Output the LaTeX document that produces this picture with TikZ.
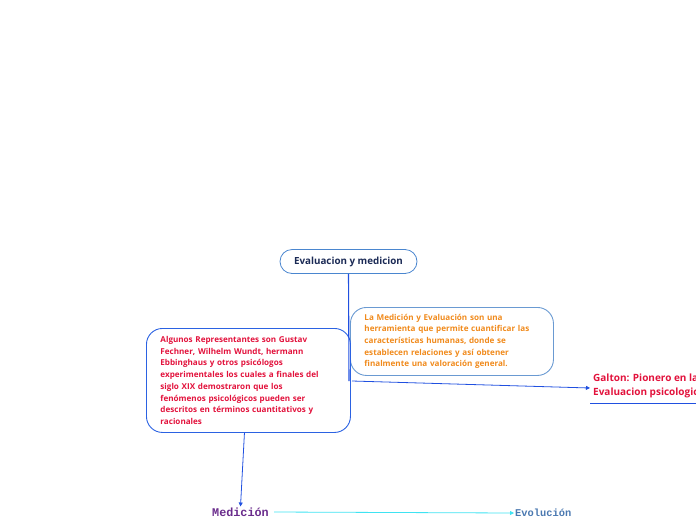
\documentclass[tikz,border=0pt]{standalone}
\usepackage{fontspec}
\setmainfont{Open Sans}
\setmonofont{Liberation Mono}
\usepackage{xcolor}
\usetikzlibrary{arrows.meta, positioning, calc}

\definecolor{rootbord}{HTML}{4A86CF}
\definecolor{roottxt}{HTML}{1B2A55}
\definecolor{defbord}{HTML}{6A9AD2}
\definecolor{deftxt}{HTML}{F08A1C}
\definecolor{repbord}{HTML}{2B62E2}
\definecolor{reptxt}{HTML}{E2123C}
\definecolor{linkblue}{HTML}{2050E0}
\definecolor{linkcyan}{HTML}{3FE3F2}
\definecolor{medtxt}{HTML}{6A2C8C}
\definecolor{evotxt}{HTML}{4A78B0}

\begin{document}
\begin{tikzpicture}[
    x=1pt, y=-1pt,
    every node/.style={font=\bfseries},
    rootbox/.style={rectangle, draw=rootbord, rounded corners=12pt, line width=0.8pt,
                    text=roottxt, minimum width=137pt, minimum height=24pt,
                    font=\bfseries\fontsize{9.8}{10}\selectfont},
    infobox/.style={rectangle, rounded corners=16pt, line width=0.9pt, align=left,
                    anchor=north west, inner xsep=14pt, inner ysep=5pt,
                    font=\bfseries\fontsize{8.1}{11.7}\selectfont},
    topic/.style={align=left, anchor=west, inner sep=3pt, text=reptxt,
                  font=\bfseries\fontsize{10}{14}\selectfont},
    conn/.style={line width=1.1pt, draw=linkblue},
    arrow/.style={-{Triangle[length=4pt, width=4pt]}, line width=0.8pt, draw=linkblue}
]
\clip (0,0) rectangle (696,520);

% === Central topic ===
\node[rootbox] (root) at (348.5,261.5) {Evaluacion y medicion};

% === Description boxes ===
\node[infobox, draw=defbord, text=deftxt, text width=175pt, minimum height=68pt] (defn) at (350,307)
    {La Medición y Evaluación son una\\
     herramienta que permite cuantificar las\\
     características humanas, donde se\\
     establecen relaciones y así obtener\\
     finalmente una valoración general.};

\node[infobox, draw=repbord, text=reptxt, text width=176pt, minimum height=104pt] (reps) at (146,328)
    {Algunos Representantes son Gustav\\
     Fechner, Wilhelm Wundt, hermann\\
     Ebbinghaus y otros psicólogos\\
     experimentales los cuales a finales del\\
     siglo XIX demostraron que los\\
     fenómenos psicológicos pueden ser\\
     descritos en términos cuantitativos y\\
     racionales};

% === Subtopics ===
\node[topic] (galton) at (590,386)
    {Galton: Pionero en la\\Evaluacion psicologica};
\draw[linkblue, line width=1pt] ([yshift=-2pt]galton.south west) -- ([yshift=-2pt]galton.south east);

\node[font=\ttfamily\bfseries\fontsize{11.8}{12}\selectfont, text=medtxt, inner sep=1pt] (med) at (240.5,512) {Medición};
\node[font=\ttfamily\bfseries\fontsize{10.4}{12}\selectfont, text=evotxt, anchor=west, inner sep=1pt] (evo) at (514,513) {Evolución};

% Connectors
\coordinate (jn) at (349,381);
\draw[conn] (root.south) -- (jn);
\draw[arrow] ([xshift=3pt]jn) -- ([yshift=-2pt]galton.west);
\draw[arrow] ([xshift=-4pt]reps.south) -- (med.north);
\draw[-{Triangle[length=4pt, width=4pt]}, line width=0.8pt, draw=linkcyan] ([xshift=4pt]med.east) -- (evo.west);

\end{tikzpicture}
\end{document}
